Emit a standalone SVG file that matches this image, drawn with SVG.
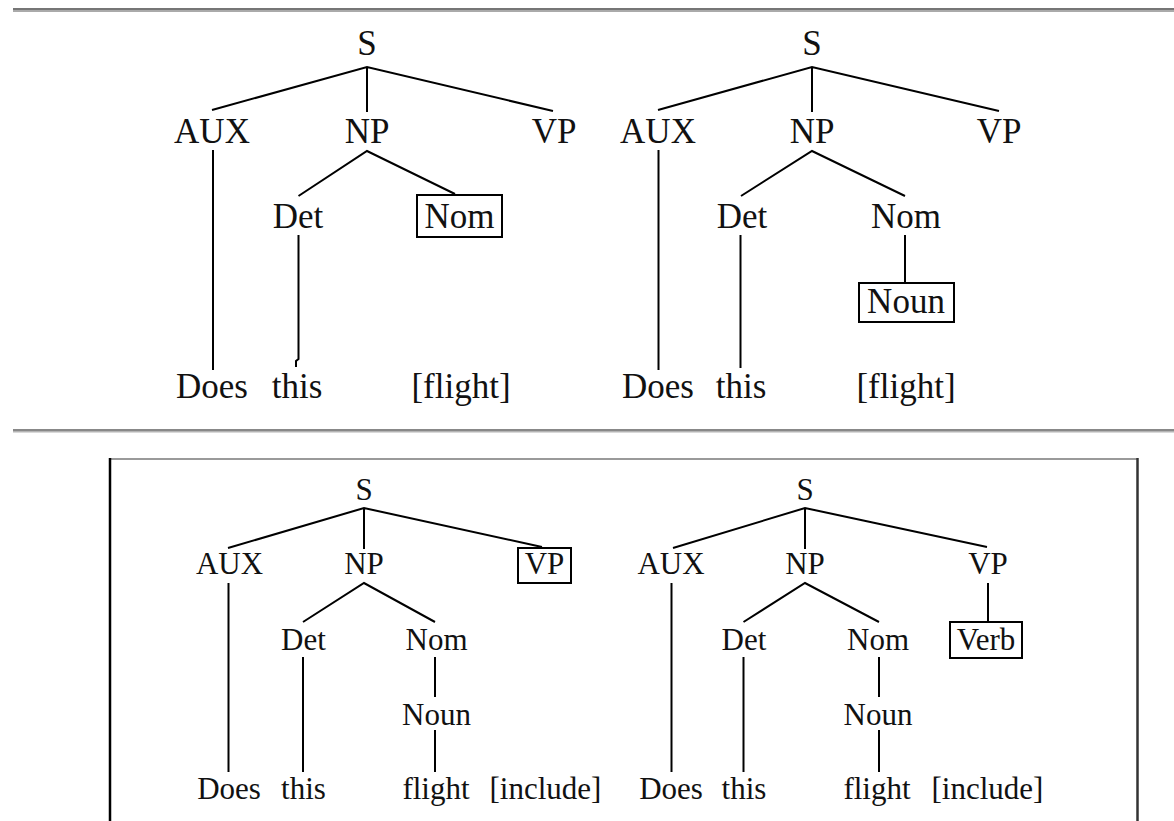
<svg xmlns="http://www.w3.org/2000/svg" width="1174" height="821" viewBox="0 0 1174 821">
  <style>
    .big { font-family: "Liberation Serif", "Times New Roman", serif; font-size: 35px; fill: #111; text-anchor: middle; }
    .small { font-family: "Liberation Serif", "Times New Roman", serif; font-size: 31px; fill: #111; text-anchor: middle; }
    .edge { stroke: #000; stroke-width: 2; fill: none; }
    .hl { fill: none; stroke: #000; stroke-width: 2; }
  </style>
  <rect width="1174" height="821" fill="#fff"/>

  <!-- page rules and frame -->
  <g id="rules">
    <rect x="13" y="8" width="1161" height="2" fill="#767676"/>
    <rect x="13" y="10" width="1161" height="2" fill="#aaaaaa"/>
    <rect x="13" y="429" width="1161" height="2" fill="#888888"/>
    <rect x="13" y="431" width="1161" height="1.5" fill="#b4b4b4"/>
    <line x1="110" y1="459" x2="1138" y2="459" stroke="#9a9a9a" stroke-width="2"/>
    <line x1="110" y1="458" x2="110" y2="821" stroke="#000" stroke-width="2.5"/>
    <line x1="1137.5" y1="458" x2="1137.5" y2="821" stroke="#333" stroke-width="2.5"/>
  </g>

  <!-- connectors -->
  <g id="connectors" class="edge">
    <!-- tree 1 -->
    <path d="M212,110 L367,67 L553,111 M367,67 L367,112"/>
    <path d="M213,150 L213,370"/>
    <path d="M298.5,196 L367,151 L455,194"/>
    <path d="M298.5,235 L298.5,359 L296,361 L296,367"/>
    <!-- tree 2 -->
    <path d="M658,110 L812,67 L999,111 M812,67 L812,112"/>
    <path d="M658.5,150 L658.5,370"/>
    <path d="M741,196 L812,151 L905,196"/>
    <path d="M740.5,235 L740.5,368"/>
    <path d="M905,235 L905,284"/>
    <!-- tree 3 -->
    <path d="M228,548 L364,508 L542,547 M364,508 L364,549"/>
    <path d="M228.5,583 L228.5,772"/>
    <path d="M303,622 L364,583 L435,622"/>
    <path d="M303,657 L303,772"/>
    <path d="M435,657 L435,697"/>
    <path d="M435,730 L435,772"/>
    <!-- tree 4 -->
    <path d="M673,548 L805,508 L987,547 M805,508 L805,549"/>
    <path d="M671.5,583 L671.5,772"/>
    <path d="M743.5,622 L805,583 L879,622"/>
    <path d="M988,583 L988,622"/>
    <path d="M743.5,657 L743.5,772"/>
    <path d="M879,657 L879,697"/>
    <path d="M879,730 L879,772"/>
  </g>

  <!-- tree 1 nodes -->
  <g id="t1-S"><text class="big" x="367" y="55">S</text></g>
  <g id="t1-AUX"><text class="big" x="212" y="143">AUX</text></g>
  <g id="t1-NP"><text class="big" x="367" y="143">NP</text></g>
  <g id="t1-VP"><text class="big" x="554" y="143">VP</text></g>
  <g id="t1-Det"><text class="big" x="298" y="228">Det</text></g>
  <g id="t1-Nom"><rect class="hl" x="417" y="195" width="85" height="42"/><text class="big" x="459.5" y="228">Nom</text></g>
  <g id="t1-Does"><text class="big" x="212" y="398">Does</text></g>
  <g id="t1-this"><text class="big" x="297" y="398">this</text></g>
  <g id="t1-flight"><text class="big" x="461" y="398">[flight]</text></g>

  <!-- tree 2 nodes -->
  <g id="t2-S"><text class="big" x="812" y="55">S</text></g>
  <g id="t2-AUX"><text class="big" x="658" y="143">AUX</text></g>
  <g id="t2-NP"><text class="big" x="812" y="143">NP</text></g>
  <g id="t2-VP"><text class="big" x="999" y="143">VP</text></g>
  <g id="t2-Det"><text class="big" x="742" y="228">Det</text></g>
  <g id="t2-Nom"><text class="big" x="906" y="228">Nom</text></g>
  <g id="t2-Noun"><rect class="hl" x="859" y="283" width="95" height="39"/><text class="big" x="906" y="313">Noun</text></g>
  <g id="t2-Does"><text class="big" x="658" y="398">Does</text></g>
  <g id="t2-this"><text class="big" x="741" y="398">this</text></g>
  <g id="t2-flight"><text class="big" x="906" y="398">[flight]</text></g>

  <!-- tree 3 nodes -->
  <g id="t3-S"><text class="small" x="364" y="500">S</text></g>
  <g id="t3-AUX"><text class="small" x="229.5" y="574">AUX</text></g>
  <g id="t3-NP"><text class="small" x="364" y="574">NP</text></g>
  <g id="t3-VP"><rect class="hl" x="518" y="548" width="53" height="35"/><text class="small" x="544.5" y="574">VP</text></g>
  <g id="t3-Det"><text class="small" x="303.5" y="650">Det</text></g>
  <g id="t3-Nom"><text class="small" x="436.5" y="650">Nom</text></g>
  <g id="t3-Noun"><text class="small" x="436.5" y="725">Noun</text></g>
  <g id="t3-Does"><text class="small" x="229" y="799">Does</text></g>
  <g id="t3-this"><text class="small" x="303.5" y="799">this</text></g>
  <g id="t3-flight"><text class="small" x="436" y="799">flight</text></g>
  <g id="t3-include"><text class="small" x="545.5" y="799">[include]</text></g>

  <!-- tree 4 nodes -->
  <g id="t4-S"><text class="small" x="805" y="500">S</text></g>
  <g id="t4-AUX"><text class="small" x="671" y="574">AUX</text></g>
  <g id="t4-NP"><text class="small" x="805" y="574">NP</text></g>
  <g id="t4-VP"><text class="small" x="988" y="574">VP</text></g>
  <g id="t4-Det"><text class="small" x="744" y="650">Det</text></g>
  <g id="t4-Nom"><text class="small" x="878" y="650">Nom</text></g>
  <g id="t4-Verb"><rect class="hl" x="950" y="622" width="72" height="36"/><text class="small" x="986" y="650">Verb</text></g>
  <g id="t4-Noun"><text class="small" x="878" y="725">Noun</text></g>
  <g id="t4-Does"><text class="small" x="671" y="799">Does</text></g>
  <g id="t4-this"><text class="small" x="744" y="799">this</text></g>
  <g id="t4-flight"><text class="small" x="877" y="799">flight</text></g>
  <g id="t4-include"><text class="small" x="987.5" y="799">[include]</text></g>
</svg>
